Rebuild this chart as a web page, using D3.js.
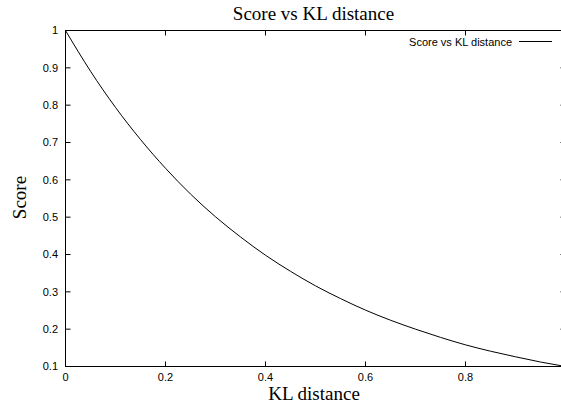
<!DOCTYPE html>
<html><head><meta charset="utf-8">
<script src="https://cdn.jsdelivr.net/npm/d3@7"></script>
<style>body{margin:0;background:#fff}svg{display:block}</style>
</head><body>
<svg id="c" width="561" height="406"></svg>
<script>
const kl = [0,0.05,0.1,0.15,0.2,0.25,0.3,0.35,0.4,0.45,0.5,0.55,0.6,0.65,0.7,0.75,0.8,0.85,0.9,0.95,1.0];
const score = [1.0,0.891,0.794,0.708,0.631,0.562,0.501,0.447,0.398,0.355,0.316,0.282,0.251,0.224,0.2,0.178,0.158,0.141,0.126,0.112,0.1];
const xTicks = [0,0.2,0.4,0.6,0.8];
const yTicks = [0.1,0.2,0.3,0.4,0.5,0.6,0.7,0.8,0.9,1];
const title = "Score vs KL distance";
const xLabel = "KL distance";
const yLabel = "Score";
const legendLabel = "Score vs KL distance";

const svg = d3.select("#c");
const L=65.5, R=565.5, T=30.5, B=366.5;
const x = d3.scaleLinear().domain([0,1]).range([L,R]);
const y = d3.scaleLinear().domain([0.1,1]).range([B,T]);
const sans = "'Liberation Sans', Arial, sans-serif";
const serif = "'Liberation Serif', 'Times New Roman', serif";
const tl = 5;

const g = svg.append("g");
xTicks.forEach(t=>{
  g.append("line").attr("x1",x(t)).attr("x2",x(t)).attr("y1",B).attr("y2",B-tl).attr("stroke","#000");
  g.append("line").attr("x1",x(t)).attr("x2",x(t)).attr("y1",T).attr("y2",T+tl).attr("stroke","#000");
  g.append("text").attr("x",x(t)).attr("y",381).attr("text-anchor","middle")
   .attr("font-family",sans).attr("font-size",11).text(d3.format("")(t));
});
yTicks.forEach(t=>{
  g.append("line").attr("x1",L).attr("x2",L+tl).attr("y1",y(t)).attr("y2",y(t)).attr("stroke","#000");
  g.append("line").attr("x1",R).attr("x2",R-tl).attr("y1",y(t)).attr("y2",y(t)).attr("stroke","#000");
  g.append("text").attr("x",58).attr("y",y(t)).attr("dy","0.35em").attr("text-anchor","end")
   .attr("font-family",sans).attr("font-size",11).text(d3.format("")(+t.toFixed(1)));
});
g.append("rect").attr("x",L).attr("y",T).attr("width",R-L).attr("height",B-T)
 .attr("fill","none").attr("stroke","#000").attr("stroke-width",1);

const pts = kl.map((k,i)=>[k,score[i]]);
g.append("path").datum(pts)
 .attr("d", d3.line().x(d=>x(d[0])).y(d=>y(d[1])).curve(d3.curveMonotoneX))
 .attr("fill","none").attr("stroke","#000").attr("stroke-width",1);

g.append("text").attr("x",512).attr("y",42).attr("dy","0.35em").attr("text-anchor","end")
 .attr("font-family",sans).attr("font-size",11).text(legendLabel);
g.append("line").attr("x1",519).attr("x2",552).attr("y1",41.5).attr("y2",41.5).attr("stroke","#000");

svg.append("text").attr("x",313.5).attr("y",20).attr("text-anchor","middle")
 .attr("font-family",serif).attr("font-size",19).text(title);
svg.append("text").attr("x",314).attr("y",400).attr("text-anchor","middle")
 .attr("font-family",serif).attr("font-size",19).text(xLabel);
svg.append("text").attr("transform","translate(26,197.5) rotate(-90)").attr("text-anchor","middle")
 .attr("font-family",serif).attr("font-size",19).text(yLabel);
</script>
</body></html>
